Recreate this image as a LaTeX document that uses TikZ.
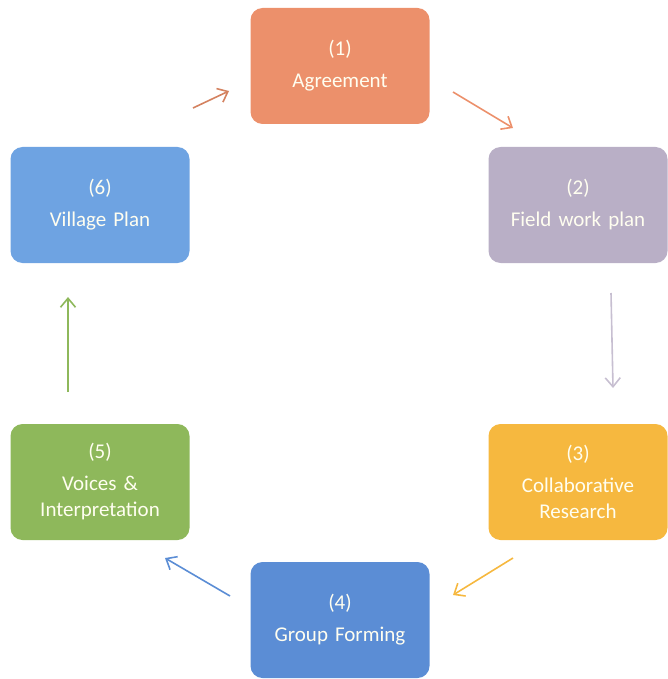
\documentclass[tikz,border=0pt]{standalone}
\usepackage{fontspec}
\setmainfont{Carlito}
\usetikzlibrary{arrows.meta}

\definecolor{agreeorange}{HTML}{EC906B}
\definecolor{fieldgray}{HTML}{B9AFC6}
\definecolor{researchyellow}{HTML}{F6B83F}
\definecolor{groupblue}{HTML}{5B8DD5}
\definecolor{voicegreen}{HTML}{8EB85B}
\definecolor{villageblue}{HTML}{6EA3E2}

\tikzset{
  stagebox/.style={rounded corners=12pt, minimum width=179pt, minimum height=116pt,
    text width=170pt, align=center, text=white!94!yellow,
    font=\fontsize{21}{32}\selectfont, inner sep=0pt},
  cyclearrow/.style={line width=1.6pt, -{Straight Barb[length=9pt,width=15pt]}}
}

\begin{document}
\begin{tikzpicture}[x=1pt, y=-1pt]
      \useasboundingbox (0,0) rectangle (668,679);
      \node[stagebox, fill=agreeorange] (agree) at (340,66) {(1)\\Agreement};
      \node[stagebox, fill=fieldgray] (field) at (578,205) {(2)\\Field work plan};
      \node[stagebox, fill=researchyellow] (research) at (578,482) {(3)\\Collaborative\\[-6pt]Research};
      \node[stagebox, fill=groupblue] (group) at (340,620) {(4)\\Group Forming};
      \node[stagebox, fill=voicegreen] (voices) at (100,482) {(5)\\Voices \&\\[-6pt]Interpretation};
      \node[stagebox, fill=villageblue] (village) at (100,205) {(6)\\Village Plan};
      % arrow ends
      \coordinate (a61) at (193,108);  \coordinate (a61e) at (229,91);
      \coordinate (a12) at (453,92);   \coordinate (a12e) at (513,128);
      \coordinate (a23) at (611,293);  \coordinate (a23e) at (613,388);
      \coordinate (a34) at (513,558);  \coordinate (a34e) at (453,595);
      \coordinate (a45) at (230,596);  \coordinate (a45e) at (165,558);
      \coordinate (a56) at (68,392);   \coordinate (a56e) at (68,297);
      \draw[cyclearrow, agreeorange!90!black] (a61) -- (a61e);
      \draw[cyclearrow, agreeorange] (a12) -- (a12e);
      \draw[cyclearrow, fieldgray!80] (a23) -- (a23e);
      \draw[cyclearrow, researchyellow] (a34) -- (a34e);
      \draw[cyclearrow, groupblue] (a45) -- (a45e);
      \draw[cyclearrow, voicegreen] (a56) -- (a56e);
\end{tikzpicture}
\end{document}
